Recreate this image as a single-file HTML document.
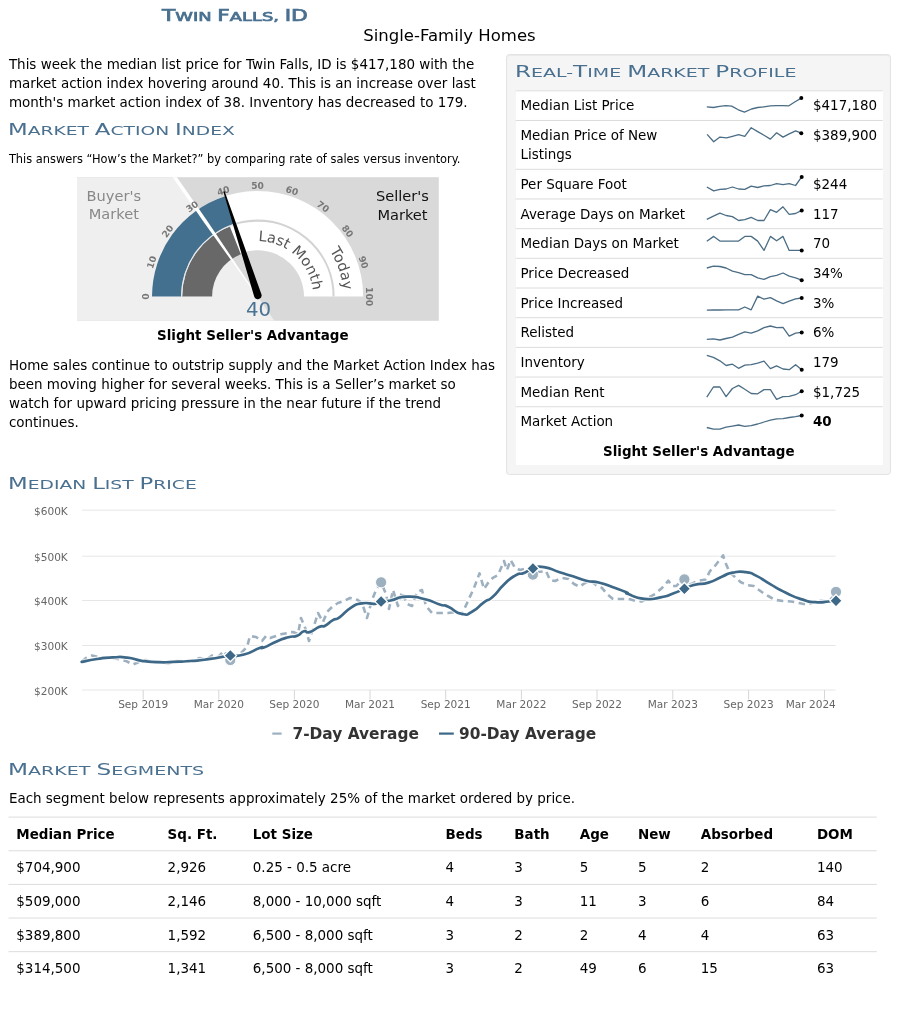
<!DOCTYPE html>
<html><head><meta charset="utf-8"><title>Twin Falls, ID</title>
<style>
html,body{margin:0;padding:0;background:#fff;}
body{width:899px;height:1030px;position:relative;overflow:hidden;font-family:"DejaVu Sans", "Liberation Sans", sans-serif;font-size:13.46px;line-height:19.16px;color:#000;}
.abs{position:absolute;white-space:nowrap;}
.h{position:absolute;white-space:nowrap;color:#4a7090;font-size:12.3px;line-height:20px;transform-origin:0 50%;text-transform:uppercase;} .h .w{display:inline-block;} .h .w::first-letter{font-size:15.0px;} .h .c{font-size:15.0px;}
.p{position:absolute;left:8.9px;white-space:nowrap;}
svg text{font-family:"DejaVu Sans", "Liberation Sans", sans-serif;}
.panel{position:absolute;left:506.2px;top:54.0px;width:382.8px;height:418.8px;background:#f5f5f5;border:1px solid #e3e3e3;border-radius:3.5px;box-shadow:inset 0 1px 1px rgba(0,0,0,.05);}
.ptable{position:absolute;left:515.7px;top:90.3px;width:367.1px;height:375.2px;background:#fff;}
.prow{position:absolute;left:515.7px;width:367.1px;}
.pl{position:absolute;left:4.8px;top:6.2px;}
.pv{position:absolute;left:297.3px;top:6.2px;}
.sline{position:absolute;left:8.5px;width:868.3px;height:1px;background:#ddd;}
.sc{position:absolute;white-space:nowrap;line-height:32.6px;}
.sh{font-weight:bold;}
</style></head><body>
<div class="h" id="h0" style="left:161.90px;top:6.34px;transform:scaleX(1.4522);-webkit-text-stroke:0.7px #4a7090;"><span class="w">Twin</span> <span class="w">Falls,</span> <span class="c">ID</span></div>
<div class="abs" id="sub" style="left:363.3px;top:23.89px;font-size:16.5px;line-height:24px;">Single-Family Homes</div>
<div class="p" id="p1" style="top:54.66px;">This week the median list price for Twin Falls, ID is $417,180 with the<br>market action index hovering around 40. This is an increase over last<br>month's market action index of 38. Inventory has decreased to 179.</div>
<div class="h" id="h1" style="left:8.40px;top:119.84px;transform:scaleX(1.5191);"><span class="w">Market</span> <span class="w">Action</span> <span class="w">Index</span></div>
<div class="p" id="small" style="top:150.66px;font-size:11.4px;line-height:16px;">This answers “How’s the Market?” by comparing rate of sales versus inventory.</div>
<div class="abs" id="ssa" style="left:157px;top:326.06px;font-weight:bold;">Slight Seller's Advantage</div>
<div class="p" id="p2" style="top:355.86px;">Home sales continue to outstrip supply and the Market Action Index has<br>been moving higher for several weeks. This is a Seller’s market so<br>watch for upward pricing pressure in the near future if the trend<br>continues.</div>

<div class="panel"></div>
<div class="h" id="h2" style="left:514.50px;top:62.04px;transform:scaleX(1.5411);"><span class="w">Real-</span><span class="w">Time</span> <span class="w">Market</span> <span class="w">Profile</span></div>
<div class="ptable"></div>
<div class="prow" style="top:90.30px;height:29.68px"><div class="pl">Median List Price</div><div class="pv">$417,180</div></div>
<div class="prow" style="top:119.98px;height:48.82px"><div class="pl">Median Price of New<br>Listings</div><div class="pv">$389,900</div></div>
<div class="prow" style="top:168.80px;height:29.68px"><div class="pl">Per Square Foot</div><div class="pv">$244</div></div>
<div class="prow" style="top:198.48px;height:29.68px"><div class="pl">Average Days on Market</div><div class="pv">117</div></div>
<div class="prow" style="top:228.16px;height:29.68px"><div class="pl">Median Days on Market</div><div class="pv">70</div></div>
<div class="prow" style="top:257.84px;height:29.68px"><div class="pl">Price Decreased</div><div class="pv">34%</div></div>
<div class="prow" style="top:287.52px;height:29.68px"><div class="pl">Price Increased</div><div class="pv">3%</div></div>
<div class="prow" style="top:317.20px;height:29.68px"><div class="pl">Relisted</div><div class="pv">6%</div></div>
<div class="prow" style="top:346.88px;height:29.68px"><div class="pl">Inventory</div><div class="pv">179</div></div>
<div class="prow" style="top:376.56px;height:29.68px"><div class="pl">Median Rent</div><div class="pv">$1,725</div></div>
<div class="prow" style="top:406.24px;height:29.68px"><div class="pl">Market Action</div><div class="pv"><b>40</b></div></div>
<div class="abs" id="ssa2" style="left:603px;top:441.6px;font-weight:bold;">Slight Seller's Advantage</div>

<div class="h" id="h3" style="left:8.40px;top:473.94px;transform:scaleX(1.5197);"><span class="w">Median</span> <span class="w">List</span> <span class="w">Price</span></div>
<div class="h" id="h4" style="left:8.40px;top:759.54px;transform:scaleX(1.5458);"><span class="w">Market</span> <span class="w">Segments</span></div>
<div class="p" id="p3" style="top:788.5px;">Each segment below represents approximately 25% of the market ordered by price.</div>
<div class="sc sh" style="left:16.3px;top:818.80px">Median Price</div>
<div class="sc sh" style="left:167.6px;top:818.80px">Sq. Ft.</div>
<div class="sc sh" style="left:252.8px;top:818.80px">Lot Size</div>
<div class="sc sh" style="left:445.6px;top:818.80px">Beds</div>
<div class="sc sh" style="left:514.3px;top:818.80px">Bath</div>
<div class="sc sh" style="left:579.8px;top:818.80px">Age</div>
<div class="sc sh" style="left:637.9px;top:818.80px">New</div>
<div class="sc sh" style="left:700.8px;top:818.80px">Absorbed</div>
<div class="sc sh" style="left:816.9px;top:818.80px">DOM</div>
<div class="sc" style="left:16.3px;top:852.45px">$704,900</div>
<div class="sc" style="left:167.6px;top:852.45px">2,926</div>
<div class="sc" style="left:252.8px;top:852.45px">0.25 - 0.5 acre</div>
<div class="sc" style="left:445.6px;top:852.45px">4</div>
<div class="sc" style="left:514.3px;top:852.45px">3</div>
<div class="sc" style="left:579.8px;top:852.45px">5</div>
<div class="sc" style="left:637.9px;top:852.45px">5</div>
<div class="sc" style="left:700.8px;top:852.45px">2</div>
<div class="sc" style="left:816.9px;top:852.45px">140</div>
<div class="sc" style="left:16.3px;top:886.10px">$509,000</div>
<div class="sc" style="left:167.6px;top:886.10px">2,146</div>
<div class="sc" style="left:252.8px;top:886.10px">8,000 - 10,000 sqft</div>
<div class="sc" style="left:445.6px;top:886.10px">4</div>
<div class="sc" style="left:514.3px;top:886.10px">3</div>
<div class="sc" style="left:579.8px;top:886.10px">11</div>
<div class="sc" style="left:637.9px;top:886.10px">3</div>
<div class="sc" style="left:700.8px;top:886.10px">6</div>
<div class="sc" style="left:816.9px;top:886.10px">84</div>
<div class="sc" style="left:16.3px;top:919.75px">$389,800</div>
<div class="sc" style="left:167.6px;top:919.75px">1,592</div>
<div class="sc" style="left:252.8px;top:919.75px">6,500 - 8,000 sqft</div>
<div class="sc" style="left:445.6px;top:919.75px">3</div>
<div class="sc" style="left:514.3px;top:919.75px">2</div>
<div class="sc" style="left:579.8px;top:919.75px">2</div>
<div class="sc" style="left:637.9px;top:919.75px">4</div>
<div class="sc" style="left:700.8px;top:919.75px">4</div>
<div class="sc" style="left:816.9px;top:919.75px">63</div>
<div class="sc" style="left:16.3px;top:953.40px">$314,500</div>
<div class="sc" style="left:167.6px;top:953.40px">1,341</div>
<div class="sc" style="left:252.8px;top:953.40px">6,500 - 8,000 sqft</div>
<div class="sc" style="left:445.6px;top:953.40px">3</div>
<div class="sc" style="left:514.3px;top:953.40px">2</div>
<div class="sc" style="left:579.8px;top:953.40px">49</div>
<div class="sc" style="left:637.9px;top:953.40px">6</div>
<div class="sc" style="left:700.8px;top:953.40px">15</div>
<div class="sc" style="left:816.9px;top:953.40px">63</div>

<svg width="899" height="1030" viewBox="0 0 899 1030" style="position:absolute;left:0;top:0;">
<path d="M515.7 90.80 H882.8" stroke="#dcdcdc" stroke-width="1" fill="none"/>
<path d="M515.7 120.48 H882.8" stroke="#dcdcdc" stroke-width="1" fill="none"/>
<path d="M515.7 169.30 H882.8" stroke="#dcdcdc" stroke-width="1" fill="none"/>
<path d="M515.7 198.98 H882.8" stroke="#dcdcdc" stroke-width="1" fill="none"/>
<path d="M515.7 228.66 H882.8" stroke="#dcdcdc" stroke-width="1" fill="none"/>
<path d="M515.7 258.34 H882.8" stroke="#dcdcdc" stroke-width="1" fill="none"/>
<path d="M515.7 288.02 H882.8" stroke="#dcdcdc" stroke-width="1" fill="none"/>
<path d="M515.7 317.70 H882.8" stroke="#dcdcdc" stroke-width="1" fill="none"/>
<path d="M515.7 347.38 H882.8" stroke="#dcdcdc" stroke-width="1" fill="none"/>
<path d="M515.7 377.06 H882.8" stroke="#dcdcdc" stroke-width="1" fill="none"/>
<path d="M515.7 406.74 H882.8" stroke="#dcdcdc" stroke-width="1" fill="none"/>
<path d="M8.5 817.10 H876.8" stroke="#dcdcdc" stroke-width="1" fill="none"/>
<path d="M8.5 850.75 H876.8" stroke="#dcdcdc" stroke-width="1" fill="none"/>
<path d="M8.5 884.40 H876.8" stroke="#dcdcdc" stroke-width="1" fill="none"/>
<path d="M8.5 918.05 H876.8" stroke="#dcdcdc" stroke-width="1" fill="none"/>
<path d="M8.5 951.70 H876.8" stroke="#dcdcdc" stroke-width="1" fill="none"/>
<rect x="77" y="177.2" width="361.8" height="143.60000000000002" fill="#d9d9d9"/>
<polygon points="77,177.2 174.80,177.2 274.38,320.8 77,320.8" fill="#efefef"/>
<path d="M152.00 296.60 A105.6 105.6 0 0 1 363.20 296.60 L304.00 296.60 A46.4 46.4 0 0 0 211.20 296.60 Z" fill="#ffffff"/>
<path d="M181.60 296.60 A76.0 76.0 0 0 1 333.60 296.60" fill="none" stroke="#d3d3d3" stroke-width="2.1"/>
<path d="M152.00 296.60 A105.6 105.6 0 0 1 224.97 196.17 L233.93 223.75 A76.6 76.6 0 0 0 181.00 296.60 Z" fill="#44708f"/>
<path d="M182.20 296.60 A75.4 75.4 0 0 1 229.84 226.49 L240.85 254.30 A45.5 45.5 0 0 0 212.10 296.60 Z" fill="#686868"/>
<path d="M181.60 296.60 A76.0 76.0 0 0 1 234.11 224.32" fill="none" stroke="#e8eef3" stroke-width="1"/>
<clipPath id="gclip"><rect x="77" y="177.2" width="361.8" height="143.60000000000002"/></clipPath>
<polygon clip-path="url(#gclip)" points="173.96,172.92 206.61,220.00 257.89,296.40 257.31,296.80 203.74,222.00 171.08,174.91" fill="#ffffff"/>
<text x="146.30" y="296.60" transform="rotate(-90.0 146.30 296.60)" text-anchor="middle" font-size="9.1" font-weight="bold" fill="#777" dy="3.2">0</text>
<text x="151.75" y="262.21" transform="rotate(-72.0 151.75 262.21)" text-anchor="middle" font-size="9.1" font-weight="bold" fill="#777" dy="3.2">10</text>
<text x="167.56" y="231.18" transform="rotate(-54.0 167.56 231.18)" text-anchor="middle" font-size="9.1" font-weight="bold" fill="#777" dy="3.2">20</text>
<text x="192.18" y="206.56" transform="rotate(-36.0 192.18 206.56)" text-anchor="middle" font-size="9.1" font-weight="bold" fill="#777" dy="3.2">30</text>
<text x="223.21" y="190.75" transform="rotate(-18.0 223.21 190.75)" text-anchor="middle" font-size="9.1" font-weight="bold" fill="#777" dy="3.2">40</text>
<text x="257.60" y="185.30" transform="rotate(0.0 257.60 185.30)" text-anchor="middle" font-size="9.1" font-weight="bold" fill="#777" dy="3.2">50</text>
<text x="291.99" y="190.75" transform="rotate(18.0 291.99 190.75)" text-anchor="middle" font-size="9.1" font-weight="bold" fill="#777" dy="3.2">60</text>
<text x="323.02" y="206.56" transform="rotate(36.0 323.02 206.56)" text-anchor="middle" font-size="9.1" font-weight="bold" fill="#777" dy="3.2">70</text>
<text x="347.64" y="231.18" transform="rotate(54.0 347.64 231.18)" text-anchor="middle" font-size="9.1" font-weight="bold" fill="#777" dy="3.2">80</text>
<text x="363.45" y="262.21" transform="rotate(72.0 363.45 262.21)" text-anchor="middle" font-size="9.1" font-weight="bold" fill="#777" dy="3.2">90</text>
<text x="368.90" y="296.60" transform="rotate(90.0 368.90 296.60)" text-anchor="middle" font-size="9.1" font-weight="bold" fill="#777" dy="3.2">100</text>
<path id="arcA" d="M172.00 296.6 A85.60 85.60 0 0 1 343.20 296.6" fill="none"/>
<path id="arcB" d="M202.05 296.6 A55.55 55.55 0 0 1 313.15 296.6" fill="none"/>
<text font-size="14.5" fill="#555"><textPath href="#arcA" startOffset="97.5%" text-anchor="end">Today</textPath></text>
<text font-size="14.5" fill="#555"><textPath href="#arcB" startOffset="96.5%" text-anchor="end">Last Month</textPath></text>
<text x="113.8" y="200.8" text-anchor="middle" font-size="14.6" fill="#888">Buyer's</text>
<text x="113.8" y="219.2" text-anchor="middle" font-size="14.6" fill="#888">Market</text>
<text x="402.5" y="201.3" text-anchor="middle" font-size="14.6" fill="#111">Seller's</text>
<text x="402.5" y="219.5" text-anchor="middle" font-size="14.6" fill="#111">Market</text>
<path d="M224.61 191.13 L261.41 294.22 A3.8 3.8 0 0 1 254.19 296.58 L223.28 191.57 Z" fill="#000"/>
<text x="258.5" y="316" text-anchor="middle" font-size="19.8" fill="#4a7394">40</text>
<path d="M706.8 106.8 L713.4 107.5 L719.6 106.4 L725.8 105.6 L731.7 106.1 L738.3 109.8 L744.5 112.1 L751.5 109.0 L757.7 107.5 L764.0 106.8 L770.2 105.8 L776.4 105.6 L782.7 105.6 L788.9 105.8 L795.1 101.7 L801.3 98.1" fill="none" stroke="#4b6d85" stroke-width="1.3" stroke-linejoin="round"/>
<circle cx="801.3" cy="98.1" r="2" fill="#000"/>
<path d="M707.1 134.4 L713.7 141.7 L719.9 137.1 L726.6 137.8 L732.4 136.3 L738.6 134.7 L744.8 136.3 L751.2 127.7 L757.7 131.6 L764.0 135.2 L770.4 139.1 L776.6 132.8 L783.0 137.1 L789.2 133.9 L795.6 130.8 L801.3 133.2" fill="none" stroke="#4b6d85" stroke-width="1.3" stroke-linejoin="round"/>
<circle cx="801.3" cy="133.2" r="2" fill="#000"/>
<path d="M706.8 187.0 L713.7 190.9 L719.9 189.4 L726.1 189.0 L732.4 187.0 L738.6 189.0 L744.8 189.4 L751.2 186.2 L757.7 187.5 L764.0 185.8 L770.4 185.5 L776.6 183.6 L783.0 184.7 L789.2 183.6 L795.6 185.5 L801.7 176.9" fill="none" stroke="#4b6d85" stroke-width="1.3" stroke-linejoin="round"/>
<circle cx="801.7" cy="176.9" r="2" fill="#000"/>
<path d="M706.8 219.4 L713.4 216.1 L719.9 213.2 L726.1 215.5 L732.4 216.6 L738.6 220.5 L744.8 219.7 L751.2 217.4 L757.7 220.5 L764.0 220.5 L770.4 209.6 L776.6 212.3 L783.0 206.8 L789.2 214.3 L795.6 213.5 L801.7 210.4" fill="none" stroke="#4b6d85" stroke-width="1.3" stroke-linejoin="round"/>
<circle cx="801.7" cy="210.4" r="2" fill="#000"/>
<path d="M706.8 241.3 L713.7 236.4 L719.9 241.1 L726.1 241.1 L732.4 241.1 L738.6 241.1 L744.8 236.4 L751.2 236.4 L757.7 241.1 L764.0 250.4 L770.4 236.4 L776.6 240.8 L783.0 236.4 L789.2 250.4 L795.6 250.4 L801.7 250.4" fill="none" stroke="#4b6d85" stroke-width="1.3" stroke-linejoin="round"/>
<circle cx="801.7" cy="250.4" r="2" fill="#000"/>
<path d="M706.8 268.0 L713.4 266.2 L719.9 266.5 L726.1 268.0 L732.4 271.2 L738.6 272.7 L744.8 274.7 L751.2 274.7 L757.7 277.9 L764.0 279.4 L770.4 276.6 L776.6 275.4 L783.0 273.0 L789.2 276.1 L795.6 277.9 L801.7 280.2" fill="none" stroke="#4b6d85" stroke-width="1.3" stroke-linejoin="round"/>
<circle cx="801.7" cy="280.2" r="2" fill="#000"/>
<path d="M706.8 310.1 L713.4 310.0 L719.9 310.0 L726.1 309.8 L732.4 309.8 L738.6 309.8 L744.8 307.0 L751.2 309.8 L757.7 296.1 L764.0 299.2 L770.4 297.7 L776.6 300.8 L783.0 303.6 L789.2 301.1 L795.6 298.9 L801.7 298.0" fill="none" stroke="#4b6d85" stroke-width="1.3" stroke-linejoin="round"/>
<circle cx="801.7" cy="298.0" r="2" fill="#000"/>
<path d="M706.8 339.3 L713.4 338.9 L719.9 340.0 L726.1 338.5 L732.4 337.1 L738.6 334.3 L744.8 331.9 L751.2 333.2 L757.7 330.8 L764.0 327.7 L770.4 326.0 L776.6 327.7 L783.0 327.3 L789.2 336.1 L795.6 333.2 L801.7 332.4" fill="none" stroke="#4b6d85" stroke-width="1.3" stroke-linejoin="round"/>
<circle cx="801.7" cy="332.4" r="2" fill="#000"/>
<path d="M706.8 355.3 L713.4 357.4 L719.9 360.8 L726.1 365.5 L732.4 364.2 L738.6 368.3 L744.8 365.2 L751.2 364.7 L757.7 363.1 L764.0 361.1 L770.4 368.6 L776.6 365.9 L783.0 369.0 L789.2 369.7 L795.6 364.7 L801.7 369.7" fill="none" stroke="#4b6d85" stroke-width="1.3" stroke-linejoin="round"/>
<circle cx="801.7" cy="369.7" r="2" fill="#000"/>
<path d="M706.8 397.1 L713.4 387.0 L719.9 387.0 L726.1 396.6 L732.4 388.5 L738.6 385.4 L744.8 389.3 L751.2 393.5 L757.7 393.8 L764.0 389.6 L770.4 389.6 L776.6 399.4 L783.0 396.6 L789.2 396.3 L795.6 394.7 L801.7 391.2" fill="none" stroke="#4b6d85" stroke-width="1.3" stroke-linejoin="round"/>
<circle cx="801.7" cy="391.2" r="2" fill="#000"/>
<path d="M706.8 427.5 L713.4 429.2 L719.9 429.2 L726.1 427.1 L732.4 426.1 L738.6 425.0 L744.8 426.4 L751.2 425.6 L757.7 424.0 L764.0 422.0 L770.4 420.1 L776.6 418.9 L783.0 418.6 L789.2 417.5 L795.6 416.7 L801.7 415.5" fill="none" stroke="#4b6d85" stroke-width="1.3" stroke-linejoin="round"/>
<circle cx="801.7" cy="415.5" r="2" fill="#000"/>
<path d="M82.2 510.2 H835.6" stroke="#e6e6e6" stroke-width="1" fill="none"/>
<text x="67.8" y="515.0" text-anchor="end" font-size="10.55" fill="#666">$600K</text>
<path d="M82.2 556.2 H835.6" stroke="#e6e6e6" stroke-width="1" fill="none"/>
<text x="67.8" y="561.0" text-anchor="end" font-size="10.55" fill="#666">$500K</text>
<path d="M82.2 600.5 H835.6" stroke="#e6e6e6" stroke-width="1" fill="none"/>
<text x="67.8" y="605.3" text-anchor="end" font-size="10.55" fill="#666">$400K</text>
<path d="M82.2 645.5 H835.6" stroke="#e6e6e6" stroke-width="1" fill="none"/>
<text x="67.8" y="650.3" text-anchor="end" font-size="10.55" fill="#666">$300K</text>
<path d="M82.2 690.0 H835.6" stroke="#e6e6e6" stroke-width="1" fill="none"/>
<text x="67.8" y="694.8" text-anchor="end" font-size="10.55" fill="#666">$200K</text>
<path d="M143.2 690 V699.5" stroke="#d6d6d6" stroke-width="1" fill="none"/>
<text x="143.2" y="707.6" text-anchor="middle" font-size="10.55" fill="#666">Sep 2019</text>
<path d="M218.8 690 V699.5" stroke="#d6d6d6" stroke-width="1" fill="none"/>
<text x="218.8" y="707.6" text-anchor="middle" font-size="10.55" fill="#666">Mar 2020</text>
<path d="M294.4 690 V699.5" stroke="#d6d6d6" stroke-width="1" fill="none"/>
<text x="294.4" y="707.6" text-anchor="middle" font-size="10.55" fill="#666">Sep 2020</text>
<path d="M370.0 690 V699.5" stroke="#d6d6d6" stroke-width="1" fill="none"/>
<text x="370.0" y="707.6" text-anchor="middle" font-size="10.55" fill="#666">Mar 2021</text>
<path d="M445.7 690 V699.5" stroke="#d6d6d6" stroke-width="1" fill="none"/>
<text x="445.7" y="707.6" text-anchor="middle" font-size="10.55" fill="#666">Sep 2021</text>
<path d="M521.4 690 V699.5" stroke="#d6d6d6" stroke-width="1" fill="none"/>
<text x="521.4" y="707.6" text-anchor="middle" font-size="10.55" fill="#666">Mar 2022</text>
<path d="M597.0 690 V699.5" stroke="#d6d6d6" stroke-width="1" fill="none"/>
<text x="597.0" y="707.6" text-anchor="middle" font-size="10.55" fill="#666">Sep 2022</text>
<path d="M672.8 690 V699.5" stroke="#d6d6d6" stroke-width="1" fill="none"/>
<text x="672.8" y="707.6" text-anchor="middle" font-size="10.55" fill="#666">Mar 2023</text>
<path d="M748.6 690 V699.5" stroke="#d6d6d6" stroke-width="1" fill="none"/>
<text x="748.6" y="707.6" text-anchor="middle" font-size="10.55" fill="#666">Sep 2023</text>
<path d="M824.5 690 V699.5" stroke="#d6d6d6" stroke-width="1" fill="none"/>
<text x="835.8" y="707.6" text-anchor="end" font-size="10.55" fill="#666">Mar 2024</text>
<path d="M81.7 661.5 L86.0 658.0 L92.0 655.5 L98.0 657.0 L104.0 657.5 L112.0 658.0 L120.0 659.5 L126.0 661.0 L133.0 664.5 L139.0 662.0 L146.0 660.0 L152.0 662.5 L160.0 662.0 L168.0 663.5 L176.0 661.0 L184.0 661.5 L192.0 660.5 L200.0 658.0 L206.0 660.0 L212.0 655.5 L218.0 657.0 L224.0 651.0 L230.3 660.0 L236.0 657.0 L242.0 652.0 L247.0 647.0 L250.0 636.0 L256.0 637.0 L262.0 641.0 L266.0 636.0 L270.0 638.0 L276.0 636.0 L282.0 634.0 L288.0 633.0 L293.0 632.0 L298.0 634.0 L301.0 618.0 L306.0 630.0 L309.0 641.0 L314.0 626.0 L318.0 613.0 L323.0 622.0 L327.0 612.0 L332.0 607.0 L338.0 603.0 L344.0 601.0 L350.0 598.0 L356.0 599.0 L362.0 603.0 L367.0 618.0 L372.0 600.0 L376.0 590.0 L381.1 582.3 L386.0 594.0 L389.0 609.0 L393.0 590.0 L398.0 606.0 L402.0 592.0 L407.0 604.0 L412.0 606.0 L417.0 592.0 L422.0 590.0 L426.0 606.0 L432.0 613.0 L440.0 613.0 L448.0 613.0 L455.0 612.0 L462.0 614.0 L468.4 600.0 L474.0 588.0 L479.5 573.4 L484.0 589.0 L488.0 583.0 L492.8 577.8 L498.0 575.0 L504.0 561.0 L507.0 570.0 L510.6 560.0 L515.0 567.8 L520.0 570.0 L524.0 569.0 L528.0 572.0 L533.0 575.6 L538.0 572.0 L546.0 571.0 L550.0 580.0 L555.0 581.0 L562.0 578.0 L568.5 579.0 L574.0 584.0 L579.6 586.7 L585.0 583.0 L590.7 581.0 L596.0 585.0 L601.9 587.8 L607.0 594.0 L613.0 599.0 L620.0 599.0 L626.0 599.0 L631.0 599.4 L636.0 601.0 L641.7 601.5 L648.0 598.0 L655.0 594.0 L662.0 588.0 L668.4 580.7 L672.0 586.0 L676.4 586.0 L680.0 582.0 L684.4 579.4 L688.0 585.0 L692.4 583.4 L698.0 581.0 L705.8 579.4 L710.0 571.0 L713.8 567.4 L718.0 562.0 L723.1 555.4 L726.0 564.0 L729.8 572.7 L735.0 577.0 L740.5 582.0 L747.0 585.0 L753.8 586.0 L759.0 590.0 L764.5 594.0 L770.0 597.0 L775.2 599.9 L783.0 601.0 L791.2 601.5 L799.0 603.0 L807.2 604.7 L814.0 602.0 L820.5 600.7 L828.6 601.5 L833.0 597.0 L836.0 591.9" fill="none" stroke="#ffffff" stroke-width="4.5" stroke-opacity="0.6" stroke-linejoin="round"/>
<path d="M81.7 661.5 L86.0 658.0 L92.0 655.5 L98.0 657.0 L104.0 657.5 L112.0 658.0 L120.0 659.5 L126.0 661.0 L133.0 664.5 L139.0 662.0 L146.0 660.0 L152.0 662.5 L160.0 662.0 L168.0 663.5 L176.0 661.0 L184.0 661.5 L192.0 660.5 L200.0 658.0 L206.0 660.0 L212.0 655.5 L218.0 657.0 L224.0 651.0 L230.3 660.0 L236.0 657.0 L242.0 652.0 L247.0 647.0 L250.0 636.0 L256.0 637.0 L262.0 641.0 L266.0 636.0 L270.0 638.0 L276.0 636.0 L282.0 634.0 L288.0 633.0 L293.0 632.0 L298.0 634.0 L301.0 618.0 L306.0 630.0 L309.0 641.0 L314.0 626.0 L318.0 613.0 L323.0 622.0 L327.0 612.0 L332.0 607.0 L338.0 603.0 L344.0 601.0 L350.0 598.0 L356.0 599.0 L362.0 603.0 L367.0 618.0 L372.0 600.0 L376.0 590.0 L381.1 582.3 L386.0 594.0 L389.0 609.0 L393.0 590.0 L398.0 606.0 L402.0 592.0 L407.0 604.0 L412.0 606.0 L417.0 592.0 L422.0 590.0 L426.0 606.0 L432.0 613.0 L440.0 613.0 L448.0 613.0 L455.0 612.0 L462.0 614.0 L468.4 600.0 L474.0 588.0 L479.5 573.4 L484.0 589.0 L488.0 583.0 L492.8 577.8 L498.0 575.0 L504.0 561.0 L507.0 570.0 L510.6 560.0 L515.0 567.8 L520.0 570.0 L524.0 569.0 L528.0 572.0 L533.0 575.6 L538.0 572.0 L546.0 571.0 L550.0 580.0 L555.0 581.0 L562.0 578.0 L568.5 579.0 L574.0 584.0 L579.6 586.7 L585.0 583.0 L590.7 581.0 L596.0 585.0 L601.9 587.8 L607.0 594.0 L613.0 599.0 L620.0 599.0 L626.0 599.0 L631.0 599.4 L636.0 601.0 L641.7 601.5 L648.0 598.0 L655.0 594.0 L662.0 588.0 L668.4 580.7 L672.0 586.0 L676.4 586.0 L680.0 582.0 L684.4 579.4 L688.0 585.0 L692.4 583.4 L698.0 581.0 L705.8 579.4 L710.0 571.0 L713.8 567.4 L718.0 562.0 L723.1 555.4 L726.0 564.0 L729.8 572.7 L735.0 577.0 L740.5 582.0 L747.0 585.0 L753.8 586.0 L759.0 590.0 L764.5 594.0 L770.0 597.0 L775.2 599.9 L783.0 601.0 L791.2 601.5 L799.0 603.0 L807.2 604.7 L814.0 602.0 L820.5 600.7 L828.6 601.5 L833.0 597.0 L836.0 591.9" fill="none" stroke="#9db0c0" stroke-width="2.6" stroke-dasharray="6.5 4.5" stroke-linejoin="round"/>
<circle cx="230.3" cy="660" r="5.6" fill="#9db0c0" stroke="#fff" stroke-width="1"/>
<circle cx="381.1" cy="582.3" r="5.6" fill="#9db0c0" stroke="#fff" stroke-width="1"/>
<circle cx="532.9" cy="574.6" r="5.6" fill="#9db0c0" stroke="#fff" stroke-width="1"/>
<circle cx="684.4" cy="579.4" r="5.6" fill="#9db0c0" stroke="#fff" stroke-width="1"/>
<circle cx="836" cy="591.9" r="5.6" fill="#9db0c0" stroke="#fff" stroke-width="1"/>
<path d="M81.7 661.9 C86.9 660.9 86.8 660.5 97.2 659.0 C107.6 657.5 102.8 657.9 112.8 657.4 C122.8 656.9 117.7 656.5 127.3 657.6 C136.9 658.7 131.7 659.3 141.7 660.8 C151.7 662.3 146.9 661.7 157.3 662.1 C167.7 662.5 161.8 662.3 172.9 661.9 C184.0 661.5 178.8 661.9 190.7 661.0 C202.6 660.1 196.6 660.8 208.5 659.2 C220.4 657.6 219.0 657.3 226.3 656.1 C233.6 654.9 224.4 656.1 230.3 655.6 C236.2 655.1 234.2 657.1 244.0 654.5 C253.8 651.9 253.0 650.2 259.6 647.9 C266.2 645.6 258.0 649.7 263.9 647.5 C269.8 645.3 269.0 644.6 277.2 641.2 C285.4 637.8 281.7 639.0 288.4 637.2 C295.1 635.4 292.1 637.7 297.3 635.7 C302.5 633.7 299.8 632.4 303.9 631.2 C308.0 630.0 304.3 633.6 309.5 632.1 C314.7 630.6 314.3 628.9 319.5 626.8 C324.7 624.7 320.6 627.9 325.1 625.7 C329.6 623.5 328.1 622.9 332.9 620.1 C337.7 617.3 333.6 621.5 339.5 617.4 C345.4 613.3 343.3 612.6 350.7 607.9 C358.1 603.2 353.7 604.8 361.8 603.4 C369.9 602.0 368.7 604.4 375.1 603.8 C381.5 603.2 375.9 602.7 381.1 601.6 C386.3 600.5 382.3 602.1 390.7 600.5 C399.1 598.9 395.2 597.2 406.3 596.7 C417.4 596.2 413.0 596.4 424.1 599.0 C435.2 601.6 431.6 601.9 439.7 604.5 C447.8 607.1 441.0 603.6 448.3 606.7 C455.6 609.8 453.5 612.4 461.7 613.9 C469.9 615.4 465.4 615.1 472.8 611.2 C480.2 607.3 477.2 607.1 483.9 602.3 C490.6 597.5 486.1 602.6 492.8 596.7 C499.5 590.8 496.6 591.5 504.0 584.5 C511.4 577.5 508.4 579.5 515.1 575.6 C521.8 571.7 518.1 575.3 524.0 572.9 C529.9 570.5 526.2 570.4 532.9 568.5 C539.6 566.6 535.1 565.8 544.0 567.1 C552.9 568.4 550.0 569.2 559.6 572.3 C569.2 575.4 564.0 573.5 572.9 576.3 C581.8 579.1 577.4 578.6 586.3 580.7 C595.2 582.8 590.7 580.5 599.6 582.7 C608.5 584.9 604.1 584.0 613.0 587.2 C621.9 590.4 621.2 590.0 626.3 592.3 C631.4 594.6 622.3 591.9 628.3 594.1 C634.3 596.3 633.7 597.8 644.4 598.9 C655.1 600.0 650.6 599.2 660.4 597.3 C670.2 595.4 665.7 596.2 673.7 593.3 C681.7 590.4 677.3 591.6 684.4 588.7 C691.5 585.8 687.1 586.7 695.1 584.7 C703.1 582.7 699.5 585.3 708.4 582.6 C717.3 579.9 713.8 580.0 721.8 576.7 C729.8 573.4 724.5 574.2 732.5 572.7 C740.5 571.2 737.8 571.1 745.8 572.2 C753.8 573.3 748.5 572.0 756.5 575.9 C764.5 579.8 760.0 578.3 769.8 583.9 C779.6 589.5 775.2 587.5 785.9 592.7 C796.6 597.9 792.1 596.3 801.9 599.4 C811.7 602.5 806.3 601.4 815.2 602.1 C824.1 602.8 821.7 602.0 828.6 601.5 C835.5 601.0 833.5 601.0 836.0 600.7" fill="none" stroke="#ffffff" stroke-width="5" stroke-opacity="0.7" stroke-linejoin="round"/>
<path d="M81.7 661.9 C86.9 660.9 86.8 660.5 97.2 659.0 C107.6 657.5 102.8 657.9 112.8 657.4 C122.8 656.9 117.7 656.5 127.3 657.6 C136.9 658.7 131.7 659.3 141.7 660.8 C151.7 662.3 146.9 661.7 157.3 662.1 C167.7 662.5 161.8 662.3 172.9 661.9 C184.0 661.5 178.8 661.9 190.7 661.0 C202.6 660.1 196.6 660.8 208.5 659.2 C220.4 657.6 219.0 657.3 226.3 656.1 C233.6 654.9 224.4 656.1 230.3 655.6 C236.2 655.1 234.2 657.1 244.0 654.5 C253.8 651.9 253.0 650.2 259.6 647.9 C266.2 645.6 258.0 649.7 263.9 647.5 C269.8 645.3 269.0 644.6 277.2 641.2 C285.4 637.8 281.7 639.0 288.4 637.2 C295.1 635.4 292.1 637.7 297.3 635.7 C302.5 633.7 299.8 632.4 303.9 631.2 C308.0 630.0 304.3 633.6 309.5 632.1 C314.7 630.6 314.3 628.9 319.5 626.8 C324.7 624.7 320.6 627.9 325.1 625.7 C329.6 623.5 328.1 622.9 332.9 620.1 C337.7 617.3 333.6 621.5 339.5 617.4 C345.4 613.3 343.3 612.6 350.7 607.9 C358.1 603.2 353.7 604.8 361.8 603.4 C369.9 602.0 368.7 604.4 375.1 603.8 C381.5 603.2 375.9 602.7 381.1 601.6 C386.3 600.5 382.3 602.1 390.7 600.5 C399.1 598.9 395.2 597.2 406.3 596.7 C417.4 596.2 413.0 596.4 424.1 599.0 C435.2 601.6 431.6 601.9 439.7 604.5 C447.8 607.1 441.0 603.6 448.3 606.7 C455.6 609.8 453.5 612.4 461.7 613.9 C469.9 615.4 465.4 615.1 472.8 611.2 C480.2 607.3 477.2 607.1 483.9 602.3 C490.6 597.5 486.1 602.6 492.8 596.7 C499.5 590.8 496.6 591.5 504.0 584.5 C511.4 577.5 508.4 579.5 515.1 575.6 C521.8 571.7 518.1 575.3 524.0 572.9 C529.9 570.5 526.2 570.4 532.9 568.5 C539.6 566.6 535.1 565.8 544.0 567.1 C552.9 568.4 550.0 569.2 559.6 572.3 C569.2 575.4 564.0 573.5 572.9 576.3 C581.8 579.1 577.4 578.6 586.3 580.7 C595.2 582.8 590.7 580.5 599.6 582.7 C608.5 584.9 604.1 584.0 613.0 587.2 C621.9 590.4 621.2 590.0 626.3 592.3 C631.4 594.6 622.3 591.9 628.3 594.1 C634.3 596.3 633.7 597.8 644.4 598.9 C655.1 600.0 650.6 599.2 660.4 597.3 C670.2 595.4 665.7 596.2 673.7 593.3 C681.7 590.4 677.3 591.6 684.4 588.7 C691.5 585.8 687.1 586.7 695.1 584.7 C703.1 582.7 699.5 585.3 708.4 582.6 C717.3 579.9 713.8 580.0 721.8 576.7 C729.8 573.4 724.5 574.2 732.5 572.7 C740.5 571.2 737.8 571.1 745.8 572.2 C753.8 573.3 748.5 572.0 756.5 575.9 C764.5 579.8 760.0 578.3 769.8 583.9 C779.6 589.5 775.2 587.5 785.9 592.7 C796.6 597.9 792.1 596.3 801.9 599.4 C811.7 602.5 806.3 601.4 815.2 602.1 C824.1 602.8 821.7 602.0 828.6 601.5 C835.5 601.0 833.5 601.0 836.0 600.7" fill="none" stroke="#3d6887" stroke-width="2.7" stroke-linejoin="round" stroke-linecap="round"/>
<path d="M230.3 649.4 L236.5 655.6 L230.3 661.8000000000001 L224.10000000000002 655.6 Z" fill="#3d6887" stroke="#fff" stroke-width="1.3"/>
<path d="M381.1 595.4 L387.3 601.6 L381.1 607.8000000000001 L374.90000000000003 601.6 Z" fill="#3d6887" stroke="#fff" stroke-width="1.3"/>
<path d="M532.9 562.3 L539.1 568.5 L532.9 574.7 L526.6999999999999 568.5 Z" fill="#3d6887" stroke="#fff" stroke-width="1.3"/>
<path d="M684.4 582.5 L690.6 588.7 L684.4 594.9000000000001 L678.1999999999999 588.7 Z" fill="#3d6887" stroke="#fff" stroke-width="1.3"/>
<path d="M836 594.5 L842.2 600.7 L836 606.9000000000001 L829.8 600.7 Z" fill="#3d6887" stroke="#fff" stroke-width="1.3"/>
<path d="M272.3 733.6 H281.6" stroke="#9db0c0" stroke-width="2.2" fill="none"/>
<text x="292.5" y="738.8" font-size="15.4" font-weight="bold" fill="#333">7-Day Average</text>
<path d="M439 733.6 H453.8" stroke="#3d6887" stroke-width="2.2" fill="none"/>
<text x="459" y="738.8" font-size="15.4" font-weight="bold" fill="#333">90-Day Average</text>
</svg>
</body></html>
